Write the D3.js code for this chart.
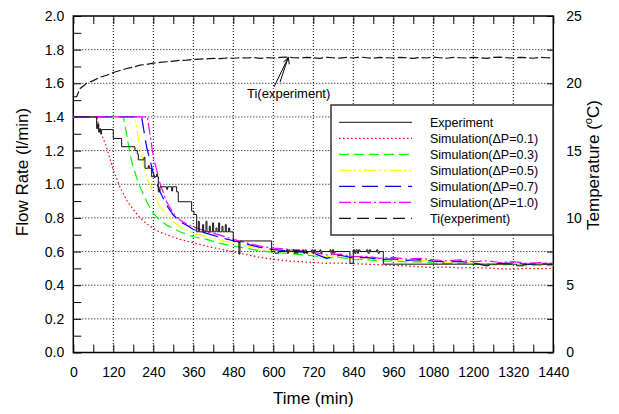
<!DOCTYPE html>
<html><head><meta charset="utf-8">
<script src="https://cdn.jsdelivr.net/npm/d3@7"></script>
<style>
html,body{margin:0;padding:0;background:#fff;}
svg{display:block;font-family:"Liberation Sans",Arial,sans-serif;}
</style></head>
<body>
<svg id="chart" width="619" height="414"></svg>
<script>
// ---------- data ----------
const xTicks = [0,120,240,360,480,600,720,840,960,1080,1200,1320,1440];
const yTicks = [0,0.2,0.4,0.6,0.8,1.0,1.2,1.4,1.6,1.8,2.0];
const tTicks = [0,5,10,15,20,25];

const legendLabels = ["Experiment","Simulation(\u0394P=0.1)","Simulation(\u0394P=0.3)","Simulation(\u0394P=0.5)","Simulation(\u0394P=0.7)","Simulation(\u0394P=1.0)","Ti(experiment)"];

// experiment flow (step changes)
const expT = [0,70,73,76,79,82,85,120,145,185,192,195,212,215,225,228,235,250,253,255,260,280,283,295,298,310,315,355,362,370,
  375,378,388,391,398,401,408,411,418,421,428,431,436,439,446,449,456,459,466,469,
  480,497,500,595,605,615,640,643,646,650,660,663,667,670,674,678,688,691,695,699,703,715,719,723,727,740,743,746,770,773,777,781,785,
  830,840,844,848,852,856,860,880,884,888,892,910,914,918,930,1330,1350,1440];
const expV = [1.40,1.33,1.36,1.31,1.33,1.30,1.325,1.272,1.223,1.20,1.18,1.145,1.16,1.095,1.11,1.095,1.045,1.06,1.045,0.955,0.985,0.97,0.985,0.96,0.985,0.955,0.896,0.84,0.82,0.717,
  0.78,0.717,0.76,0.717,0.78,0.717,0.75,0.717,0.77,0.717,0.74,0.717,0.77,0.717,0.75,0.717,0.76,0.717,0.74,0.717,
  0.66,0.585,0.663,0.60,0.59,0.60,0.61,0.59,0.61,0.60,0.61,0.59,0.61,0.59,0.61,0.60,0.61,0.59,0.61,0.59,0.60,0.61,0.59,0.61,0.60,0.61,0.59,0.60,0.61,0.59,0.61,0.59,0.60,
  0.53,0.61,0.59,0.61,0.59,0.61,0.60,0.61,0.59,0.61,0.60,0.61,0.59,0.60,0.525,0.515,0.525,0.525];

const tailT = [600,640,680,720,760,800,840,880,920,960,1000,1040,1080,1120,1160,1200,1240,1280,1320,1360,1400,1440];

const sim01T = [0,70,80,90,100,110,120,140,160,180,200,220,240,260,280,320,360,400,440,480,520,560];
const sim01V = [1.40,1.40,1.32,1.27,1.22,1.15,1.085,0.985,0.905,0.85,0.80,0.765,0.738,0.715,0.70,0.672,0.652,0.632,0.615,0.598,0.582,0.565];
const sim01Tail = [0.555,0.545,0.54,0.535,0.53,0.532,0.528,0.525,0.522,0.518,0.515,0.51,0.505,0.508,0.503,0.505,0.502,0.498,0.495,0.50,0.498,0.50];

const sim03T = [0,150,160,170,180,190,200,220,240,260,280,320,360,400,440,480,520,560];
const sim03V = [1.40,1.40,1.30,1.18,1.10,1.04,0.986,0.896,0.827,0.787,0.757,0.718,0.688,0.672,0.649,0.633,0.619,0.605];
const sim03Tail = [0.595,0.59,0.582,0.575,0.562,0.565,0.552,0.553,0.543,0.545,0.538,0.54,0.532,0.528,0.532,0.524,0.526,0.52,0.524,0.516,0.52,0.516];

const sim05T = [0,185,195,200,210,220,240,260,280,300,320,360,400,440,480,520,560];
const sim05V = [1.40,1.40,1.28,1.223,1.124,1.045,0.946,0.866,0.817,0.777,0.747,0.708,0.688,0.668,0.649,0.635,0.615];
const sim05Tail = [0.605,0.598,0.59,0.582,0.57,0.572,0.558,0.56,0.55,0.552,0.544,0.548,0.54,0.535,0.538,0.53,0.532,0.525,0.53,0.522,0.526,0.522];

const sim07T = [0,205,215,220,230,240,260,280,300,320,340,360,400,440,480,520,560];
const sim07V = [1.40,1.40,1.28,1.22,1.144,1.065,0.956,0.876,0.817,0.777,0.757,0.731,0.708,0.684,0.664,0.645,0.625];
const sim07Tail = [0.612,0.605,0.598,0.59,0.56,0.578,0.562,0.565,0.553,0.557,0.548,0.552,0.543,0.538,0.542,0.532,0.515,0.53,0.532,0.524,0.528,0.524];

const sim10T = [0,222,230,240,250,260,280,300,320,340,360,400,440,480,520,560];
const sim10V = [1.40,1.40,1.30,1.163,1.085,1.005,0.896,0.827,0.787,0.763,0.747,0.718,0.698,0.672,0.652,0.632];
const sim10Tail = [0.62,0.615,0.605,0.595,0.58,0.585,0.57,0.572,0.56,0.565,0.555,0.56,0.55,0.545,0.55,0.54,0.545,0.535,0.54,0.53,0.535,0.53];

// inlet temperature (right axis, °C)
const tiT = [0,10,20,40,60,80,100,120,140,160,180,200,220,240,260,280,300,320,340,360,380,400,420,440,460,480,500,520,540,560,580,600,620,640,660,680,700,720,740,760,780,800,820,840,860,880,900,920,940,960,980,1000,1020,1040,1060,1080,1100,1120,1140,1160,1180,1200,1220,1240,1260,1280,1300,1320,1340,1360,1380,1400,1420,1440];
const tiV = [19.0,19.0,19.6,20.0,20.2,20.45,20.6,20.8,20.95,21.1,21.2,21.35,21.4,21.5,21.55,21.6,21.65,21.7,21.72,21.78,21.8,21.82,21.85,21.83,21.88,21.86,21.9,21.88,21.92,21.85,21.9,21.88,21.92,21.95,21.9,21.88,21.92,21.9,21.85,21.93,21.9,21.87,21.92,21.88,21.95,21.9,21.86,21.92,21.9,21.88,21.93,21.9,21.85,21.92,21.88,21.95,21.9,21.86,21.92,21.9,21.88,21.93,21.9,21.85,21.92,21.95,21.9,21.88,21.92,21.9,21.86,21.93,21.9,21.88];

// ---------- drawing ----------
const svg = d3.select("#chart");
const L = 73.3, R = 553.3, T = 16, B = 352.5;
const x = d3.scaleLinear().domain([0,1440]).range([L,R]);
const y = d3.scaleLinear().domain([0,2]).range([B,T]);
const yT = d3.scaleLinear().domain([0,25]).range([B,T]);

// grid
const g = svg.append("g");
g.selectAll(".gx").data(xTicks.slice(1,-1)).join("line")
  .attr("x1",d=>x(d)).attr("x2",d=>x(d)).attr("y1",T).attr("y2",B)
  .attr("stroke","#000").attr("stroke-width",1).attr("stroke-dasharray","1,2");
g.selectAll(".gy").data(yTicks.slice(1,-1)).join("line")
  .attr("x1",L).attr("x2",R).attr("y1",d=>y(d)).attr("y2",d=>y(d))
  .attr("stroke","#000").attr("stroke-width",1).attr("stroke-dasharray","1,2");

// axes (inward ticks)
const minorX = d3.range(0,1441,60);
const fmt1 = d3.format(".1f");
svg.append("g").attr("transform",`translate(0,${B})`)
  .call(d3.axisBottom(x).tickValues(minorX).tickSize(-8).tickFormat(d=>xTicks.includes(d)?d:""))
  .call(a=>a.select(".domain").remove())
  .call(a=>a.selectAll("text").attr("dy","1.05em").attr("y",10).attr("font-size",14).attr("font-family","Liberation Sans, Arial, sans-serif"));
svg.append("g").attr("transform",`translate(0,${T})`)
  .call(d3.axisTop(x).tickValues(minorX).tickSize(-8).tickFormat(""))
  .call(a=>a.select(".domain").remove());
svg.append("g").attr("transform",`translate(${L},0)`)
  .call(d3.axisLeft(y).tickValues(d3.range(0,2.01,0.1)).tickSize(-8).tickFormat(d=>{const r=Math.round(d*10); return r%2===0?fmt1(d):"";}))
  .call(a=>a.select(".domain").remove())
  .call(a=>a.selectAll("text").attr("x",-9).attr("font-size",14).attr("font-family","Liberation Sans, Arial, sans-serif"));
svg.append("g").attr("transform",`translate(${R},0)`)
  .call(d3.axisRight(yT).tickValues(d3.range(0,25.1,2.5)).tickSize(-6).tickFormat(d=>tTicks.includes(d)?d:""))
  .call(a=>a.select(".domain").remove())
  .call(a=>a.selectAll("text").attr("x",13).attr("font-size",14).attr("font-family","Liberation Sans, Arial, sans-serif"));
svg.selectAll(".tick line").attr("stroke","#000");

// frame
svg.append("rect").attr("x",L).attr("y",T).attr("width",R-L).attr("height",B-T)
  .attr("fill","none").attr("stroke","#000").attr("stroke-width",1.5);

// series
const lineFlow = d3.line().x(d=>x(d[0])).y(d=>y(d[1]));
const zip = (a,b)=>a.map((v,i)=>[v,b[i]]);
const simStyles = [
  {T:sim01T,V:sim01V,tail:sim01Tail,color:"#ff0000",dash:"1.5,2.5",w:1.2},
  {T:sim03T,V:sim03V,tail:sim03Tail,color:"#00ff00",dash:"10,5",w:1.2},
  {T:sim05T,V:sim05V,tail:sim05Tail,color:"#ffff00",dash:"12,3,2,3,2,3",w:1.2},
  {T:sim07T,V:sim07V,tail:sim07Tail,color:"#0000ff",dash:"16,7",w:1.2},
  {T:sim10T,V:sim10V,tail:sim10Tail,color:"#ff00ff",dash:"12,3,2,3",w:1.2}
];
simStyles.forEach(s=>{
  const pts = zip(s.T.concat(tailT), s.V.concat(s.tail));
  svg.append("path").datum(pts).attr("d",lineFlow)
    .attr("fill","none").attr("stroke",s.color).attr("stroke-width",s.w).attr("stroke-dasharray",s.dash);
});
svg.append("path").datum(zip(expT,expV))
  .attr("d",d3.line().x(d=>x(d[0])).y(d=>y(d[1])).curve(d3.curveStepAfter))
  .attr("fill","none").attr("stroke","#111").attr("stroke-width",1);
svg.append("path").datum(zip(tiT,tiV))
  .attr("d",d3.line().x(d=>x(d[0])).y(d=>yT(d[1])))
  .attr("fill","none").attr("stroke","#111").attr("stroke-width",1.2).attr("stroke-dasharray","9,3");

// annotation
const tipX = x(645), tipY = yT(21.93);
svg.append("text").attr("x",247).attr("y",98).attr("font-size",13).text("Ti(experiment)");
const arr = svg.append("g").attr("stroke","#000").attr("stroke-width",1).attr("fill","none");
arr.append("line").attr("x1",274).attr("y1",87).attr("x2",tipX).attr("y2",tipY);
arr.append("line").attr("x1",280).attr("y1",82).attr("x2",tipX).attr("y2",tipY);
arr.append("polyline").attr("points",`${tipX-5},${tipY+5} ${tipX},${tipY} ${tipX+1},${tipY+7}`);

// legend
const lg = svg.append("g");
lg.append("rect").attr("x",331).attr("y",105).attr("width",222).attr("height",130)
  .attr("fill","#fff").attr("stroke","#333").attr("stroke-width",1.5);
const legStyles = [{color:"#111",dash:null,w:1}].concat(simStyles).concat([{color:"#111",dash:"12,6",w:1.2}]);
legendLabels.forEach((lab,i)=>{
  const yy = 122.3 + 16*i;
  const s = legStyles[i];
  lg.append("line").attr("x1",339).attr("x2",412).attr("y1",yy).attr("y2",yy)
    .attr("stroke",s.color).attr("stroke-width",s.w).attr("stroke-dasharray",s.dash);
  lg.append("text").attr("x",430).attr("y",yy+4.5).attr("font-size",12.5).text(lab);
});

// axis titles
svg.append("text").attr("x",(L+R)/2).attr("y",404).attr("text-anchor","middle").attr("font-size",17).text("Time (min)");
svg.append("text").attr("transform","translate(28,172) rotate(-90)").attr("text-anchor","middle").attr("font-size",17).text("Flow Rate (l/min)");
const tt = svg.append("text").attr("transform","translate(599,165) rotate(-90)").attr("text-anchor","middle").attr("font-size",17);
tt.append("tspan").text("Temperature (");
tt.append("tspan").attr("font-size",11).attr("dy",-7).text("o");
tt.append("tspan").attr("dy",7).text("C)");
</script>
</body></html>
